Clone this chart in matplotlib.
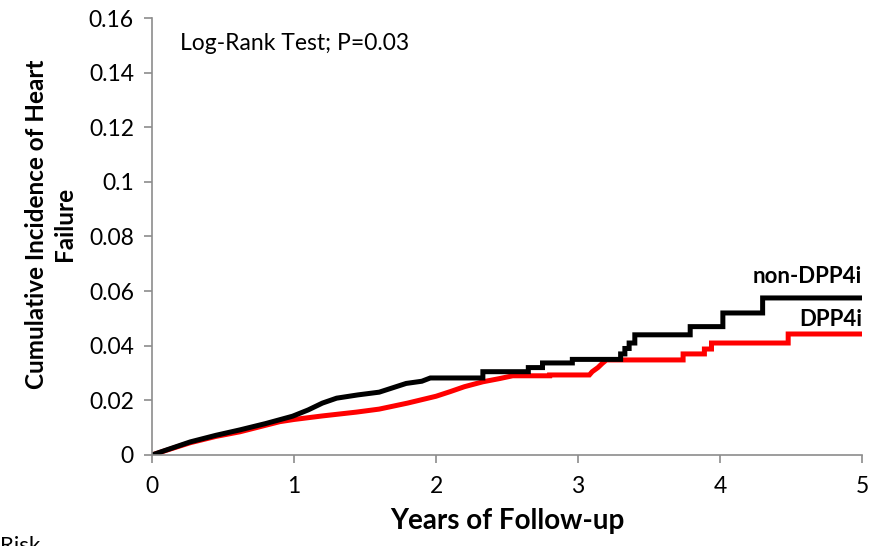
import numpy as np
import matplotlib.pyplot as plt

plt.rcParams['font.family'] = ['Lato', 'DejaVu Sans']

# non-DPP4i (black); repeated times are the vertical jumps of the step curve
t_non = [0, 0.1, 0.27, 0.45, 0.62, 0.8, 0.99, 1.1, 1.2, 1.3, 1.45, 1.6, 1.79, 1.9, 1.96,
         2.33, 2.33, 2.65, 2.65, 2.75, 2.75, 2.96, 2.96, 3.30, 3.30, 3.33, 3.33,
         3.36, 3.36, 3.40, 3.40, 3.79, 3.79, 4.02, 4.02, 4.30, 4.30, 5.0]
y_non = [0, 0.0018, 0.0048, 0.0072, 0.0092, 0.0115, 0.0142, 0.0165, 0.019, 0.0208, 0.022, 0.023,
         0.0262, 0.027, 0.0282,
         0.0282, 0.0305, 0.0305, 0.032, 0.032, 0.0337, 0.0337, 0.035, 0.035, 0.037,
         0.037, 0.039, 0.039, 0.041, 0.041, 0.044, 0.044, 0.047, 0.047, 0.052,
         0.052, 0.0575, 0.0575]

# DPP4i (red)
t_dpp = [0, 0.1, 0.27, 0.45, 0.62, 0.9, 1.0, 1.2, 1.44, 1.6, 1.8, 2.0, 2.1, 2.2,
         2.33, 2.45, 2.54, 2.8, 2.8, 3.08, 3.1, 3.14, 3.17, 3.2,
         3.74, 3.74, 3.89, 3.89, 3.94, 3.94, 4.48, 4.48, 5.0]
y_dpp = [0, 0.0017, 0.0045, 0.0068, 0.0085, 0.0122, 0.013, 0.0143, 0.0157, 0.0168, 0.019,
         0.0215, 0.0232, 0.025, 0.0268, 0.028, 0.029, 0.029, 0.0293, 0.0293, 0.0305,
         0.032, 0.0335, 0.0348,
         0.0348, 0.037, 0.037, 0.0388, 0.0388, 0.041, 0.041, 0.0443, 0.0443]

yticks = [0, 0.02, 0.04, 0.06, 0.08, 0.1, 0.12, 0.14, 0.16]
xticks = [0, 1, 2, 3, 4, 5]

fig = plt.figure(figsize=(8.71, 5.46), dpi=100)
ax = fig.add_axes([0.1745, 0.1667, 0.8152, 0.8003])

ax.plot(t_dpp, y_dpp, color='#ff0000', lw=3.6, solid_joinstyle='miter')
ax.plot(t_non, y_non, color='black', lw=3.6, solid_joinstyle='miter')

ax.set_xlim(0, 5)
ax.set_ylim(0, 0.16)
ax.set_xticks(xticks)
ax.set_yticks(yticks)
ax.set_yticklabels([f"{v:g}" for v in yticks])
ax.tick_params(labelsize=16.5, color='#8c8c8c', length=6, width=1.2, pad=7)
ax.tick_params(axis='x', pad=9)
for s in ['top', 'right']:
    ax.spines[s].set_visible(False)
for s in ['left', 'bottom']:
    ax.spines[s].set_color('#8c8c8c')
    ax.spines[s].set_linewidth(1.2)

ax.set_xlabel('Years of Follow-up', fontsize=20, fontweight='bold', labelpad=8)
ax.set_ylabel('Cumulative Incidence of Heart\nFailure', fontsize=17.5, fontweight='bold',
              linespacing=1.25)
ax.yaxis.set_label_coords(-0.107, 0.528)

ax.text(0.2, 0.1505, 'Log-Rank Test; P=0.03', fontsize=16.5, va='center')
ax.text(5, 0.0655, 'non-DPP4i', fontsize=16, fontweight='bold', ha='right', va='center')
ax.text(5, 0.0495, 'DPP4i', fontsize=16, fontweight='bold', ha='right', va='center')
fig.text(0.0, 0.0, 'Risk', fontsize=16, va='center')

fig.savefig('out.png', dpi=100)
